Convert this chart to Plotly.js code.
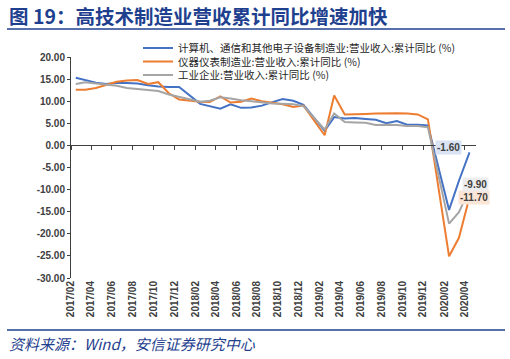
<!DOCTYPE html>
<html>
<head>
<meta charset="utf-8">
<script src="https://cdn.plot.ly/plotly-3.0.1.min.js"></script>
<style>html,body{margin:0;padding:0;background:#fff;}#chart{width:510px;height:359px;}</style>
</head>
<body>
<div id="chart"></div>
<script>
// ---- data ----
const months = [
  '2017-02','2017-03','2017-04','2017-05','2017-06','2017-07','2017-08','2017-09','2017-10','2017-11','2017-12',
  '2018-02','2018-03','2018-04','2018-05','2018-06','2018-07','2018-08','2018-09','2018-10','2018-11','2018-12',
  '2019-02','2019-03','2019-04','2019-05','2019-06','2019-07','2019-08','2019-09','2019-10','2019-11','2019-12',
  '2020-02','2020-03','2020-04'
];
const electronics = [
  15.3, 14.8, 14.2, 13.9, 14.1, 14.1, 14.0, 13.6, 13.3, 13.2, 13.2,
  9.4, 8.8, 8.3, 9.3, 8.5, 8.6, 9.0, 9.8, 10.5, 10.1, 9.2,
  3.3, 6.4, 6.1, 6.2, 6.0, 5.8, 5.0, 5.5, 4.7, 4.7, 4.5,
  -14.6, -8.0, -1.6
];
const instruments = [
  12.6, 12.6, 13.0, 13.7, 14.4, 14.7, 14.8, 13.9, 14.3, 11.8, 10.4,
  9.9, 9.8, 11.1, 9.7, 9.9, 10.6, 10.0, 9.7, 9.3, 8.7, 9.0,
  2.3, 11.3, 7.0, 7.0, 7.1, 7.2, 7.3, 7.3, 7.2, 7.0, 5.9,
  -25.1, -20.9, -11.7
];
const industry = [
  13.9, 14.3, 14.0, 13.7, 13.5, 13.0, 12.8, 12.5, 12.3, 11.5, 11.0,
  9.9, 10.1, 10.9, 10.6, 10.2, 10.0, 9.7, 9.5, 9.4, 9.3, 8.9,
  3.6, 7.2, 5.3, 5.2, 5.1, 4.6, 4.7, 4.6, 4.4, 4.4, 4.1,
  -17.7, -15.1, -9.9
];
const seriesNames = [
  '计算机、通信和其他电子设备制造业:营业收入:累计同比 (%)',
  '仪器仪表制造业:营业收入:累计同比 (%)',
  '工业企业:营业收入:累计同比 (%)'
];
const yTickVals = [-30, -25, -20, -15, -10, -5, 0, 5, 10, 15, 20];
const titleText = '图 19：高技术制造业营收累计同比增速加快';
const sourceText = '资料来源：Wind，安信证券研究中心';

// ---- layout helpers ----
const W = 510, H = 359;
const M = {l: 71, r: 34, t: 57, b: 81};
const PW = W - M.l - M.r, PH = H - M.t - M.b;
const px = x => (x - M.l) / PW;
const py = y => (H - M.b - y) / PH;
const mid = d => d + '-15';
const xs = months.map(mid);
const yMin = -30, yMax = 20;
const xRange = ['2017-02-01', '2020-05-04'];

const colors = ['#4472c4', '#ed7d31', '#a5a5a5'];
const values = [electronics, instruments, industry];
const legendIds = ['legend', 'legend2', 'legend3'];
const legendRowsPx = [48, 61.5, 75];

const traces = values.map((v, i) => ({
  type: 'scatter', mode: 'lines', x: xs, y: v, name: seriesNames[i],
  line: {color: colors[i], width: 2},
  legend: legendIds[i], hoverinfo: 'skip',
  xaxis: i === 2 ? 'x2' : 'x'
}));

const cjk = '"Noto Sans CJK SC", "Noto Sans", sans-serif';
const tickFont = {family: '"Liberation Sans", Arial, sans-serif', size: 10, color: '#404040', weight: 'bold'};
const legendFont = {family: cjk, size: 10.5, color: '#262626'};

const layout = {
  width: W, height: H, margin: M,
  paper_bgcolor: '#fff', plot_bgcolor: '#fff',
  showlegend: true,
  xaxis: {
    type: 'date', range: xRange, showgrid: false, zeroline: false, showline: false,
    ticks: '', tick0: '2017-02-01', dtick: 'M2', tickformat: '%Y/%m', tickangle: -90,
    tickfont: tickFont
  },
  xaxis2: {
    type: 'date', range: xRange, overlaying: 'x', anchor: 'free',
    position: (0 - yMin) / (yMax - yMin),
    showgrid: false, zeroline: false, showline: true, linecolor: '#404040', linewidth: 1,
    ticks: 'outside', ticklen: 4, tickcolor: '#404040', tick0: '2017-02-01', dtick: 'M2',
    showticklabels: false
  },
  yaxis: {
    range: [yMin, yMax], showgrid: false, zeroline: false, showline: true,
    linecolor: '#404040', linewidth: 1, ticks: 'outside', ticklen: 3, tickcolor: '#404040',
    tickvals: yTickVals, ticktext: yTickVals.map(v => v.toFixed(2)), tickfont: tickFont
  },
  shapes: [29, 330].map(y => ({
    type: 'line', xref: 'paper', yref: 'paper', x0: px(7), x1: px(505), y0: py(y), y1: py(y),
    line: {color: '#1f3f8f', width: 1.5}
  })),
  annotations: [
    {xref: 'paper', yref: 'paper', x: px(7), y: py(15), xanchor: 'left', yanchor: 'middle',
     showarrow: false, text: titleText,
     font: {family: cjk, size: 19.5, color: '#1f3f8f', weight: 'bold'}},
    {xref: 'paper', yref: 'paper', x: px(7), y: py(343), xanchor: 'left', yanchor: 'middle',
     showarrow: false, text: sourceText,
     font: {family: cjk, size: 15, color: '#1f3f8f', style: 'italic'}}
  ]
};

// end-value labels
const labelBg = ['#dae3f3', '#fbe5d6', '#ededed'];
const labelOff = [[-21, -5], [4, 0], [6, -5]];
values.forEach((v, i) => {
  const last = v.length - 1;
  layout.annotations.push({
    x: xs[last], y: v[last], xref: 'x', yref: 'y',
    text: v[last].toFixed(2), showarrow: true, arrowcolor: 'rgba(0,0,0,0)',
    ax: labelOff[i][0], ay: labelOff[i][1],
    bgcolor: labelBg[i], borderpad: 1,
    font: {family: '"Liberation Sans", Arial, sans-serif', size: 10, color: '#404040', weight: 'bold'}
  });
});

legendIds.forEach((id, i) => {
  layout[id] = {
    x: px(138), xanchor: 'left', y: py(legendRowsPx[i]), yanchor: 'middle',
    bgcolor: 'rgba(0,0,0,0)', borderwidth: 0, font: legendFont
  };
});

Plotly.newPlot('chart', traces, layout, {staticPlot: true, displayModeBar: false});
</script>
</body>
</html>
